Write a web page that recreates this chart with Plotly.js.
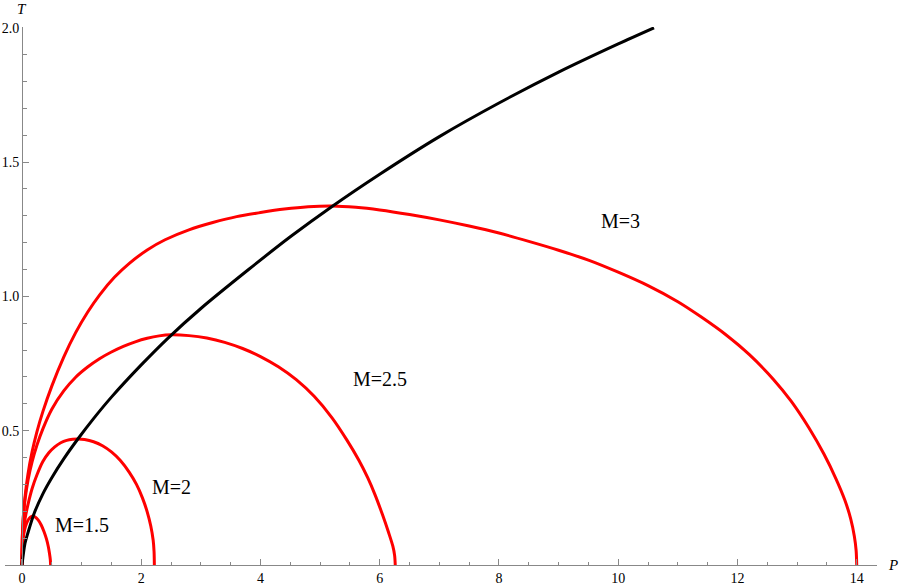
<!DOCTYPE html>
<html>
<head>
<meta charset="utf-8">
<script src="https://cdn.plot.ly/plotly-3.0.1.min.js"></script>
<style>
  html, body { margin: 0; padding: 0; background: #fff; }
  #chart { width: 899px; height: 587px; }
</style>
</head>
<body>
<div id="chart"></div>
<script>
// curves: P (x) and T (y)
var m3P = [0, 0.005, 0.02, 0.05, 0.1, 0.17, 0.25, 0.35, 0.5, 0.7, 0.9, 1.1, 1.3, 1.55, 1.8, 2.1, 2.4, 2.8, 3.2, 3.6, 4.0, 4.4, 4.8, 5.2,
           5.6, 6.0, 6.5, 7.0, 7.5, 8.0, 8.5, 9.0, 9.5, 10.0, 10.5, 11.0, 11.4, 11.8, 12.2, 12.6, 12.9, 13.2, 13.45, 13.65, 13.8, 13.9, 13.96, 13.99, 14.0];
var m3T = [0, 0.096, 0.171, 0.252, 0.338, 0.422, 0.496, 0.571, 0.666, 0.774, 0.865, 0.941, 1.005, 1.071, 1.123, 1.173, 1.211, 1.248, 1.275, 1.297, 1.312, 1.325, 1.334, 1.337,
           1.332, 1.322, 1.305, 1.285, 1.262, 1.236, 1.205, 1.172, 1.135, 1.09, 1.04, 0.98, 0.922, 0.858, 0.783, 0.692, 0.61, 0.51, 0.413, 0.322, 0.242, 0.171, 0.107, 0.054, 0];

var m25P = [0, 0.005, 0.02, 0.05, 0.1, 0.17, 0.25, 0.35, 0.5, 0.7, 0.9, 1.1, 1.3, 1.5, 1.7, 1.9, 2.1, 2.3, 2.5,
            2.8, 3.1, 3.4, 3.7, 4.0, 4.3, 4.6, 4.9, 5.2, 5.45, 5.65, 5.8, 5.92, 6.05, 6.15, 6.22, 6.25, 6.26];
var m25T = [0, 0.101, 0.171, 0.242, 0.315, 0.385, 0.446, 0.507, 0.58, 0.648, 0.699, 0.737, 0.768, 0.793, 0.814, 0.831, 0.844, 0.853, 0.857,
            0.854, 0.845, 0.829, 0.806, 0.776, 0.738, 0.69, 0.628, 0.548, 0.465, 0.39, 0.324, 0.262, 0.185, 0.12, 0.07, 0.035, 0];

var m2P = [0, 0.005, 0.02, 0.05, 0.1, 0.17, 0.25, 0.35, 0.45, 0.55, 0.65, 0.75, 0.85, 0.94,
           1.05, 1.2, 1.35, 1.5, 1.65, 1.8, 1.92, 2.02, 2.1, 2.16, 2.2, 2.215, 2.22];
var m2T = [0, 0.06, 0.12, 0.17, 0.225, 0.285, 0.335, 0.385, 0.418, 0.44, 0.455, 0.464, 0.468, 0.469,
           0.467, 0.459, 0.444, 0.421, 0.389, 0.345, 0.3, 0.25, 0.198, 0.145, 0.092, 0.05, 0];

var m15P = [0, 0.003, 0.012, 0.03, 0.06, 0.1, 0.14, 0.18, 0.22, 0.27, 0.32, 0.37, 0.41, 0.44, 0.46, 0.475, 0.48];
var m15T = [0, 0.04, 0.08, 0.115, 0.145, 0.167, 0.178, 0.182, 0.179, 0.168, 0.15, 0.124, 0.097, 0.07, 0.045, 0.02, 0];

var blackP = [0, 0.05, 0.1, 0.2, 0.35, 0.5, 0.7, 0.94, 1.2, 1.5, 2.0, 2.45, 3.0, 3.8,
              4.5, 5.2, 6.0, 7.0, 8.0, 9.0, 10.0, 10.6];
var blackT = [0, 0.08, 0.12, 0.19, 0.265, 0.325, 0.395, 0.47, 0.545, 0.625, 0.745, 0.845, 0.955, 1.10,
              1.222, 1.335, 1.455, 1.595, 1.72, 1.835, 1.94, 2.0];

var labelText = ['M=1.5', 'M=2', 'M=2.5', 'M=3'];
var labelP = [1.0, 2.51, 6.01, 10.03];
var labelT = [0.149, 0.29, 0.693, 1.28];

var redCurves = [[m15P, m15T], [m2P, m2T], [m25P, m25T], [m3P, m3T]];

var data = redCurves.map(function(c) {
  return {
    x: c[0], y: c[1], mode: 'lines', type: 'scatter',
    line: {color: '#ff0000', width: 3, shape: 'spline', smoothing: 0.8},
    hoverinfo: 'skip'
  };
});
data.push({
  x: blackP, y: blackT, mode: 'lines', type: 'scatter',
  line: {color: '#000000', width: 3, shape: 'spline', smoothing: 0.8},
  hoverinfo: 'skip'
});

var serif = 'Liberation Serif, Times New Roman, serif';

var annotations = labelText.map(function(t, i) {
  return {
    x: labelP[i], y: labelT[i], xref: 'x', yref: 'y', text: t, showarrow: false,
    font: {family: serif, size: 20, color: '#000'}
  };
});
// axis names sit outside the plot area, so place them on the paper
annotations.push({x: 1.018, y: 0.0, xref: 'paper', yref: 'paper', xanchor: 'center', yanchor: 'middle',
  text: '<i>P</i>', showarrow: false, font: {family: serif, size: 15, color: '#000'}});
annotations.push({x: 0.0195, y: 1.033, xref: 'paper', yref: 'paper', xanchor: 'center', yanchor: 'middle',
  text: '<i>T</i>', showarrow: false, font: {family: serif, size: 15, color: '#000'}});

var tickFont = {family: serif, size: 14, color: '#000'};

var layout = {
  width: 899,
  height: 587,
  showlegend: false,
  paper_bgcolor: '#fff',
  plot_bgcolor: '#fff',
  margin: {l: 5, r: 22, t: 27, b: 22},
  xaxis: {
    range: [-0.285, 14.34],
    showgrid: false, zeroline: false,
    showline: true, linecolor: '#888', linewidth: 1,
    tickvals: [0, 2, 4, 6, 8, 10, 12, 14],
    ticks: 'inside', ticklen: 6, tickcolor: '#888',
    minor: {dtick: 0.5, tick0: 0, ticks: 'inside', ticklen: 3.5, tickcolor: '#888'},
    tickfont: tickFont
  },
  yaxis: {
    range: [0, 2.003],
    anchor: 'free', position: 0.0195,
    showgrid: false, zeroline: false,
    showline: true, linecolor: '#888', linewidth: 1,
    tickvals: [0.5, 1.0, 1.5, 2.0],
    tickformat: '.1f',
    ticks: 'inside', ticklen: 6, tickcolor: '#888',
    minor: {dtick: 0.1, tick0: 0, ticks: 'inside', ticklen: 3.5, tickcolor: '#888'},
    tickfont: tickFont
  },
  annotations: annotations
};

Plotly.newPlot('chart', data, layout, {displayModeBar: false, staticPlot: true});
</script>
</body>
</html>
